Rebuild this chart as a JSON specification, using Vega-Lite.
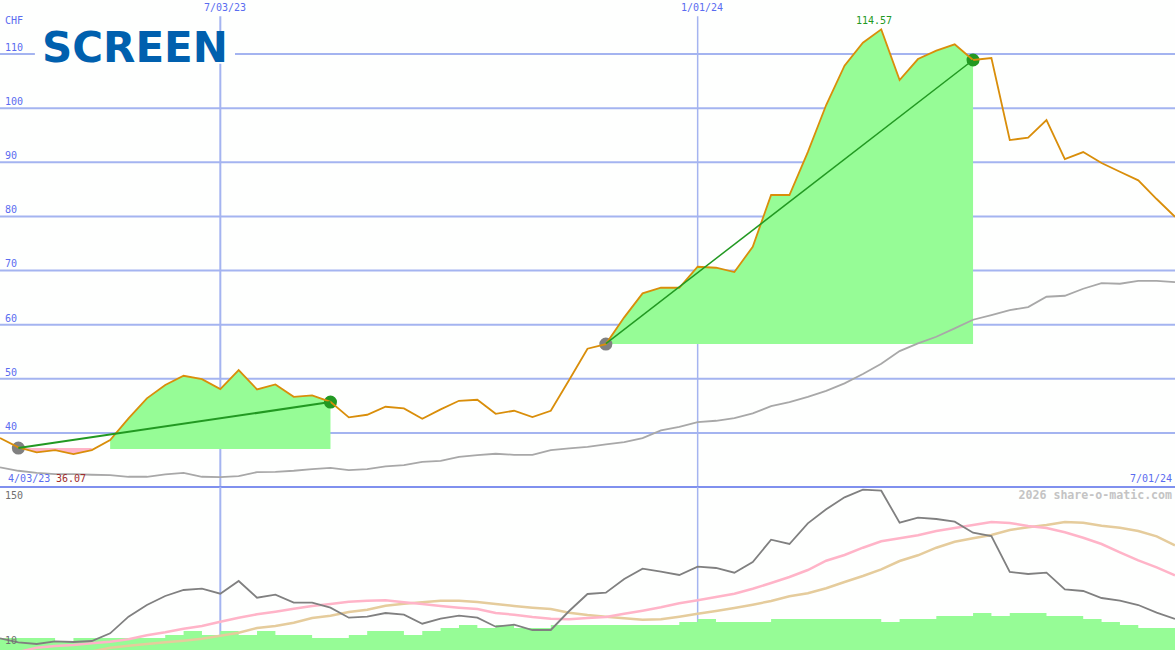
{
  "$schema": "https://vega.github.io/schema/vega-lite/v6.json",
  "width": 1175,
  "height": 650,
  "padding": 0,
  "autosize": {"type": "none"},
  "background": "#fefffe",
  "config": {"view": {"stroke": null}},
  "datasets": {
    "weekly": [
      {"i":0,"price":39.04,"ma":33.62,"rel":16.53,"fast":null,"slow":null,"vol":16.8},
      {"i":1,"price":37.32,"ma":33.0,"rel":12.93,"fast":4.2,"slow":null,"vol":16.8},
      {"i":2,"price":36.4,"ma":32.62,"rel":11.4,"fast":8.07,"slow":null,"vol":16.8},
      {"i":3,"price":36.82,"ma":32.38,"rel":13.83,"fast":9.6,"slow":null,"vol":14.1},
      {"i":4,"price":36.08,"ma":32.38,"rel":13.2,"fast":10.5,"slow":null,"vol":16.8},
      {"i":5,"price":36.82,"ma":32.26,"rel":14.1,"fast":12.03,"slow":4.65,"vol":16.8},
      {"i":6,"price":38.67,"ma":32.2,"rel":21.03,"fast":13.47,"slow":8.07,"vol":16.8},
      {"i":7,"price":42.68,"ma":31.89,"rel":35.97,"fast":15.63,"slow":9.87,"vol":16.8},
      {"i":8,"price":46.38,"ma":31.89,"rel":46.5,"fast":19.23,"slow":11.4,"vol":16.8},
      {"i":9,"price":48.84,"ma":32.33,"rel":54.6,"fast":21.93,"slow":12.93,"vol":19.5},
      {"i":10,"price":50.55,"ma":32.62,"rel":60.0,"fast":25.17,"slow":14.37,"vol":23.1},
      {"i":11,"price":49.94,"ma":31.89,"rel":61.17,"fast":27.6,"slow":16.17,"vol":19.5},
      {"i":12,"price":48.1,"ma":31.83,"rel":56.67,"fast":31.47,"slow":18.87,"vol":23.1},
      {"i":13,"price":51.61,"ma":32.02,"rel":68.1,"fast":35.07,"slow":21.57,"vol":19.5},
      {"i":14,"price":48.04,"ma":32.75,"rel":53.07,"fast":38.13,"slow":25.8,"vol":23.1},
      {"i":15,"price":48.96,"ma":32.81,"rel":55.77,"fast":40.47,"slow":27.6,"vol":19.5},
      {"i":16,"price":46.67,"ma":33.0,"rel":48.57,"fast":43.17,"slow":30.57,"vol":19.5},
      {"i":17,"price":46.93,"ma":33.31,"rel":48.57,"fast":45.6,"slow":34.8,"vol":16.8},
      {"i":18,"price":45.75,"ma":33.55,"rel":44.07,"fast":47.4,"slow":36.87,"vol":16.8},
      {"i":19,"price":42.87,"ma":33.12,"rel":35.07,"fast":49.47,"slow":40.2,"vol":19.5},
      {"i":20,"price":43.35,"ma":33.31,"rel":35.97,"fast":50.37,"slow":42.27,"vol":23.1},
      {"i":21,"price":44.83,"ma":33.81,"rel":39.3,"fast":50.73,"slow":45.87,"vol":23.1},
      {"i":22,"price":44.53,"ma":34.05,"rel":37.77,"fast":48.93,"slow":47.67,"vol":19.5},
      {"i":23,"price":42.61,"ma":34.66,"rel":29.67,"fast":47.4,"slow":48.93,"vol":23.1},
      {"i":24,"price":44.34,"ma":34.84,"rel":34.17,"fast":45.6,"slow":50.37,"vol":25.8},
      {"i":25,"price":45.93,"ma":35.58,"rel":36.87,"fast":44.07,"slow":50.37,"vol":28.5},
      {"i":26,"price":46.12,"ma":35.9,"rel":35.07,"fast":42.9,"slow":49.2,"vol":25.8},
      {"i":27,"price":43.53,"ma":36.14,"rel":26.97,"fast":39.3,"slow":47.4,"vol":28.5},
      {"i":28,"price":44.09,"ma":35.95,"rel":28.77,"fast":37.77,"slow":45.6,"vol":25.8},
      {"i":29,"price":42.92,"ma":35.95,"rel":24.0,"fast":35.7,"slow":44.07,"vol":25.8},
      {"i":30,"price":44.09,"ma":36.82,"rel":24.0,"fast":34.17,"slow":42.9,"vol":28.5},
      {"i":31,"price":49.76,"ma":37.13,"rel":41.1,"fast":33.63,"slow":39.57,"vol":28.5},
      {"i":32,"price":55.55,"ma":37.43,"rel":56.4,"fast":34.8,"slow":37.5,"vol":28.5},
      {"i":33,"price":56.41,"ma":37.87,"rel":57.57,"fast":35.7,"slow":35.97,"vol":28.5},
      {"i":34,"price":61.35,"ma":38.3,"rel":69.9,"fast":38.67,"slow":34.53,"vol":28.5},
      {"i":35,"price":65.79,"ma":39.04,"rel":79.17,"fast":41.37,"slow":33.27,"vol":28.5},
      {"i":36,"price":66.82,"ma":40.46,"rel":76.47,"fast":44.43,"slow":33.63,"vol":28.5},
      {"i":37,"price":66.82,"ma":41.13,"rel":73.5,"fast":48.03,"slow":35.97,"vol":31.2},
      {"i":38,"price":70.7,"ma":42.0,"rel":80.97,"fast":50.73,"slow":38.67,"vol":33.9},
      {"i":39,"price":70.52,"ma":42.24,"rel":79.8,"fast":53.7,"slow":41.1,"vol":31.2},
      {"i":40,"price":69.72,"ma":42.74,"rel":75.57,"fast":56.67,"slow":43.8,"vol":31.2},
      {"i":41,"price":74.4,"ma":43.6,"rel":85.2,"fast":61.17,"slow":46.77,"vol":31.2},
      {"i":42,"price":83.96,"ma":44.95,"rel":105.27,"fast":66.3,"slow":50.1,"vol":33.9},
      {"i":43,"price":83.96,"ma":45.69,"rel":101.4,"fast":71.7,"slow":54.33,"vol":33.9},
      {"i":44,"price":91.9,"ma":46.67,"rel":120.03,"fast":78.0,"slow":57.03,"vol":33.9},
      {"i":45,"price":100.59,"ma":47.78,"rel":132.63,"fast":86.37,"slow":61.53,"vol":33.9},
      {"i":46,"price":107.86,"ma":49.15,"rel":143.43,"fast":91.5,"slow":67.2,"vol":33.9},
      {"i":47,"price":112.11,"ma":50.87,"rel":150.27,"fast":98.07,"slow":72.6,"vol":33.9},
      {"i":48,"price":114.57,"ma":52.77,"rel":149.37,"fast":103.83,"slow":78.63,"vol":31.2},
      {"i":49,"price":105.21,"ma":55.12,"rel":120.57,"fast":106.53,"slow":86.1,"vol":33.9},
      {"i":50,"price":109.09,"ma":56.54,"rel":125.07,"fast":109.23,"slow":91.23,"vol":33.9},
      {"i":51,"price":110.63,"ma":57.76,"rel":123.9,"fast":113.1,"slow":98.07,"vol":36.6},
      {"i":52,"price":111.81,"ma":59.32,"rel":121.47,"fast":115.8,"slow":103.47,"vol":36.6},
      {"i":53,"price":108.91,"ma":60.91,"rel":111.57,"fast":118.5,"slow":106.53,"vol":39.3},
      {"i":54,"price":109.28,"ma":61.77,"rel":108.6,"fast":121.2,"slow":109.5,"vol":36.6},
      {"i":55,"price":94.12,"ma":62.7,"rel":76.2,"fast":120.3,"slow":114.0,"vol":39.3},
      {"i":56,"price":94.55,"ma":63.25,"rel":74.4,"fast":117.6,"slow":116.43,"vol":39.3},
      {"i":57,"price":97.82,"ma":65.16,"rel":75.57,"fast":115.8,"slow":118.5,"vol":36.6},
      {"i":58,"price":90.61,"ma":65.34,"rel":60.63,"fast":111.93,"slow":121.2,"vol":36.6},
      {"i":59,"price":91.9,"ma":66.64,"rel":59.1,"fast":107.07,"slow":120.57,"vol":33.9},
      {"i":60,"price":89.87,"ma":67.69,"rel":52.8,"fast":101.4,"slow":117.87,"vol":31.2},
      {"i":61,"price":88.26,"ma":67.56,"rel":50.37,"fast":93.93,"slow":116.07,"vol":28.5},
      {"i":62,"price":86.67,"ma":68.11,"rel":46.5,"fast":86.73,"slow":113.1,"vol":25.8},
      {"i":63,"price":83.22,"ma":68.11,"rel":39.57,"fast":80.43,"slow":108.33,"vol":25.8},
      {"i":64,"price":79.94,"ma":67.87,"rel":33.9,"fast":73.23,"slow":100.23,"vol":25.8}
    ],
    "trades": [
      {"trade":"A","i":1,"value":37.19},
      {"trade":"A","i":18,"value":45.69},
      {"trade":"B","i":33,"value":56.51},
      {"trade":"B","i":53,"value":108.91}
    ],
    "signals": [
      {"i":1,"value":37.19,"state":"entry"},
      {"i":18,"value":45.69,"state":"exit"},
      {"i":33,"value":56.41,"state":"entry"},
      {"i":53,"value":108.91,"state":"exit"}
    ],
    "gridLevels": [
      {"i":0,"i2":64,"level":110},
      {"i":0,"i2":64,"level":100},
      {"i":0,"i2":64,"level":90},
      {"i":0,"i2":64,"level":80},
      {"i":0,"i2":64,"level":70},
      {"i":0,"i2":64,"level":60},
      {"i":0,"i2":64,"level":50},
      {"i":0,"i2":64,"level":40}
    ],
    "topLabels": [
      {"i":0.27,"value":116.12,"label":"CHF","kind":"axis"},
      {"i":0.27,"value":111.13,"label":"110","kind":"axis"},
      {"i":0.27,"value":101.15,"label":"100","kind":"axis"},
      {"i":0.27,"value":91.16,"label":"90","kind":"axis"},
      {"i":0.27,"value":81.18,"label":"80","kind":"axis"},
      {"i":0.27,"value":71.2,"label":"70","kind":"axis"},
      {"i":0.27,"value":61.03,"label":"60","kind":"axis"},
      {"i":0.27,"value":51.05,"label":"50","kind":"axis"},
      {"i":0.27,"value":41.07,"label":"40","kind":"axis"},
      {"i":11.11,"value":118.43,"label":"7/03/23","kind":"axis"},
      {"i":37.09,"value":118.43,"label":"1/01/24","kind":"axis"},
      {"i":0.44,"value":31.46,"label":"4/03/23","kind":"axis"},
      {"i":3.05,"value":31.46,"label":"36.07","kind":"low"},
      {"i":46.62,"value":116.12,"label":"114.57","kind":"high"}
    ]
  },
  "data": {"name": "weekly"},
  "encoding": {
    "x": {"field": "i", "type": "quantitative", "scale": {"domain": [0, 64]}, "axis": null}
  },
  "layer": [
    {
      "layer": [
        {
          "data": {"name": "gridLevels"},
          "mark": {"type": "rule", "color": "#a4b4f0", "strokeWidth": 2},
          "encoding": {
            "x2": {"field": "i2"},
            "y": {"field": "level", "type": "quantitative", "scale": {"domain": [30, 120], "range": [487, 0]}, "axis": null}
          }
        },
        {
          "data": {"values": [{"i":12}]},
          "mark": {"type": "rule", "color": "#a4b4f0", "strokeWidth": 2},
          "encoding": {
            "y": {"datum": 117, "type": "quantitative", "scale": {"domain": [30, 120], "range": [487, 0]}, "axis": null},
            "y2": {"datum": 30}
          }
        },
        {
          "data": {"values": [{"i":38}]},
          "mark": {"type": "rule", "color": "#a4b4f0", "strokeWidth": 1.5},
          "encoding": {
            "y": {"datum": 117, "type": "quantitative", "scale": {"domain": [30, 120], "range": [487, 0]}, "axis": null},
            "y2": {"datum": 30}
          }
        },
        {
          "data": {"values": [{"i":0,"i2":64,"level":30}]},
          "mark": {"type": "rule", "color": "#7f90ee", "strokeWidth": 2},
          "encoding": {
            "x2": {"field": "i2"},
            "y": {"field": "level", "type": "quantitative", "scale": {"domain": [30, 120], "range": [487, 0]}, "axis": null}
          }
        },
        {
          "transform": [{"filter": "datum.i >= 1 && datum.i <= 5"}],
          "mark": {"type": "area", "color": "#ffb4c8"},
          "encoding": {
            "y": {"field": "price", "type": "quantitative", "scale": {"domain": [30, 120], "range": [487, 0]}, "axis": null},
            "y2": {"datum": 37.2}
          }
        },
        {
          "transform": [{"filter": "datum.i >= 6 && datum.i <= 18"}],
          "mark": {"type": "area", "color": "#96fc96"},
          "encoding": {
            "y": {"field": "price", "type": "quantitative", "scale": {"domain": [30, 120], "range": [487, 0]}, "axis": null},
            "y2": {"datum": 37.0}
          }
        },
        {
          "transform": [{"filter": "datum.i >= 33 && datum.i <= 53"}],
          "mark": {"type": "area", "color": "#96fc96"},
          "encoding": {
            "y": {"field": "price", "type": "quantitative", "scale": {"domain": [30, 120], "range": [487, 0]}, "axis": null},
            "y2": {"datum": 56.41}
          }
        },
        {
          "data": {"values": [{"i":1.9,"i2":12.8,"top":113.6,"bottom":108.2}]},
          "mark": {"type": "rect", "color": "#fefffe"},
          "encoding": {
            "x2": {"field": "i2"},
            "y": {"field": "top", "type": "quantitative", "scale": {"domain": [30, 120], "range": [487, 0]}, "axis": null},
            "y2": {"field": "bottom"}
          }
        },
        {
          "data": {"values": [{"i":7.35,"value":110.95,"label":"SCREEN"}]},
          "mark": {"type": "text", "font": "DejaVu Sans", "fontWeight": "bold", "fontSize": 42, "align": "center", "baseline": "middle", "color": "#0060ae"},
          "encoding": {
            "y": {"field": "value", "type": "quantitative", "scale": {"domain": [30, 120], "range": [487, 0]}, "axis": null},
            "text": {"field": "label"}
          }
        },
        {
          "mark": {"type": "line", "color": "#a8a8a8", "strokeWidth": 1.8},
          "encoding": {
            "y": {"field": "ma", "type": "quantitative", "scale": {"domain": [30, 120], "range": [487, 0]}, "axis": null}
          }
        },
        {
          "data": {"name": "signals"},
          "mark": {"type": "point", "filled": true, "opacity": 1, "size": 170},
          "encoding": {
            "y": {"field": "value", "type": "quantitative", "scale": {"domain": [30, 120], "range": [487, 0]}, "axis": null},
            "color": {"field": "state", "type": "nominal", "scale": {"domain": ["entry", "exit", "axis", "low", "high"], "range": ["#808080", "#229922", "#5a6cf0", "#a02c2c", "#229922"]}, "legend": null}
          }
        },
        {
          "mark": {"type": "line", "color": "#d98e0a", "strokeWidth": 1.8},
          "encoding": {
            "y": {"field": "price", "type": "quantitative", "scale": {"domain": [30, 120], "range": [487, 0]}, "axis": null}
          }
        },
        {
          "data": {"name": "trades"},
          "transform": [{"filter": "datum.trade == 'A'"}],
          "mark": {"type": "line", "color": "#229922", "strokeWidth": 2},
          "encoding": {
            "y": {"field": "value", "type": "quantitative", "scale": {"domain": [30, 120], "range": [487, 0]}, "axis": null}
          }
        },
        {
          "data": {"name": "trades"},
          "transform": [{"filter": "datum.trade == 'B'"}],
          "mark": {"type": "line", "color": "#229922", "strokeWidth": 1.5},
          "encoding": {
            "y": {"field": "value", "type": "quantitative", "scale": {"domain": [30, 120], "range": [487, 0]}, "axis": null}
          }
        },
        {
          "data": {"name": "topLabels"},
          "mark": {"type": "text", "font": "DejaVu Sans Mono", "fontSize": 10, "align": "left", "baseline": "middle"},
          "encoding": {
            "y": {"field": "value", "type": "quantitative", "scale": {"domain": [30, 120], "range": [487, 0]}, "axis": null},
            "text": {"field": "label"},
            "color": {"field": "kind", "type": "nominal", "scale": {"domain": ["entry", "exit", "axis", "low", "high"], "range": ["#808080", "#229922", "#5a6cf0", "#a02c2c", "#229922"]}, "legend": null}
          }
        },
        {
          "data": {"values": [{"i":63.84,"value":31.46,"label":"7/01/24"}]},
          "mark": {"type": "text", "font": "DejaVu Sans Mono", "fontSize": 10, "align": "right", "baseline": "middle", "color": "#5a6cf0"},
          "encoding": {
            "y": {"field": "value", "type": "quantitative", "scale": {"domain": [30, 120], "range": [487, 0]}, "axis": null},
            "text": {"field": "label"}
          }
        }
      ]
    },
    {
      "layer": [
        {
          "data": {"values": [{"i":12}]},
          "mark": {"type": "rule", "color": "#a4b4f0", "strokeWidth": 2},
          "encoding": {
            "y": {"datum": 152.7, "type": "quantitative", "scale": {"domain": [6, 152.7], "range": [650, 487]}, "axis": null},
            "y2": {"datum": 6}
          }
        },
        {
          "data": {"values": [{"i":38}]},
          "mark": {"type": "rule", "color": "#a4b4f0", "strokeWidth": 1.5},
          "encoding": {
            "y": {"datum": 152.7, "type": "quantitative", "scale": {"domain": [6, 152.7], "range": [650, 487]}, "axis": null},
            "y2": {"datum": 6}
          }
        },
        {
          "mark": {"type": "area", "color": "#96fc96", "interpolate": "step-after"},
          "encoding": {
            "y": {"field": "vol", "type": "quantitative", "scale": {"domain": [6, 152.7], "range": [650, 487]}, "axis": null},
            "y2": {"datum": 6}
          }
        },
        {
          "mark": {"type": "line", "color": "#e5cc9c", "strokeWidth": 2.5, "clip": true},
          "encoding": {
            "y": {"field": "slow", "type": "quantitative", "scale": {"domain": [6, 152.7], "range": [650, 487]}, "axis": null}
          }
        },
        {
          "mark": {"type": "line", "color": "#ffb4c8", "strokeWidth": 2.5, "clip": true},
          "encoding": {
            "y": {"field": "fast", "type": "quantitative", "scale": {"domain": [6, 152.7], "range": [650, 487]}, "axis": null}
          }
        },
        {
          "mark": {"type": "line", "color": "#808080", "strokeWidth": 1.8},
          "encoding": {
            "y": {"field": "rel", "type": "quantitative", "scale": {"domain": [6, 152.7], "range": [650, 487]}, "axis": null}
          }
        },
        {
          "data": {"values": [{"i":0.27,"value":144.6,"label":"150"},{"i":0.27,"value":14.1,"label":"10"}]},
          "mark": {"type": "text", "font": "DejaVu Sans Mono", "fontSize": 10, "align": "left", "baseline": "middle", "color": "#707070"},
          "encoding": {
            "y": {"field": "value", "type": "quantitative", "scale": {"domain": [6, 152.7], "range": [650, 487]}, "axis": null},
            "text": {"field": "label"}
          }
        },
        {
          "data": {"values": [{"i":63.84,"value":144.6,"label":"2026 share-o-matic.com"}]},
          "mark": {"type": "text", "font": "DejaVu Sans Mono", "fontWeight": "bold", "fontSize": 11.6, "align": "right", "baseline": "middle", "color": "#c4c4c4"},
          "encoding": {
            "y": {"field": "value", "type": "quantitative", "scale": {"domain": [6, 152.7], "range": [650, 487]}, "axis": null},
            "text": {"field": "label"}
          }
        }
      ]
    }
  ],
  "resolve": {"scale": {"y": "independent"}}
}
